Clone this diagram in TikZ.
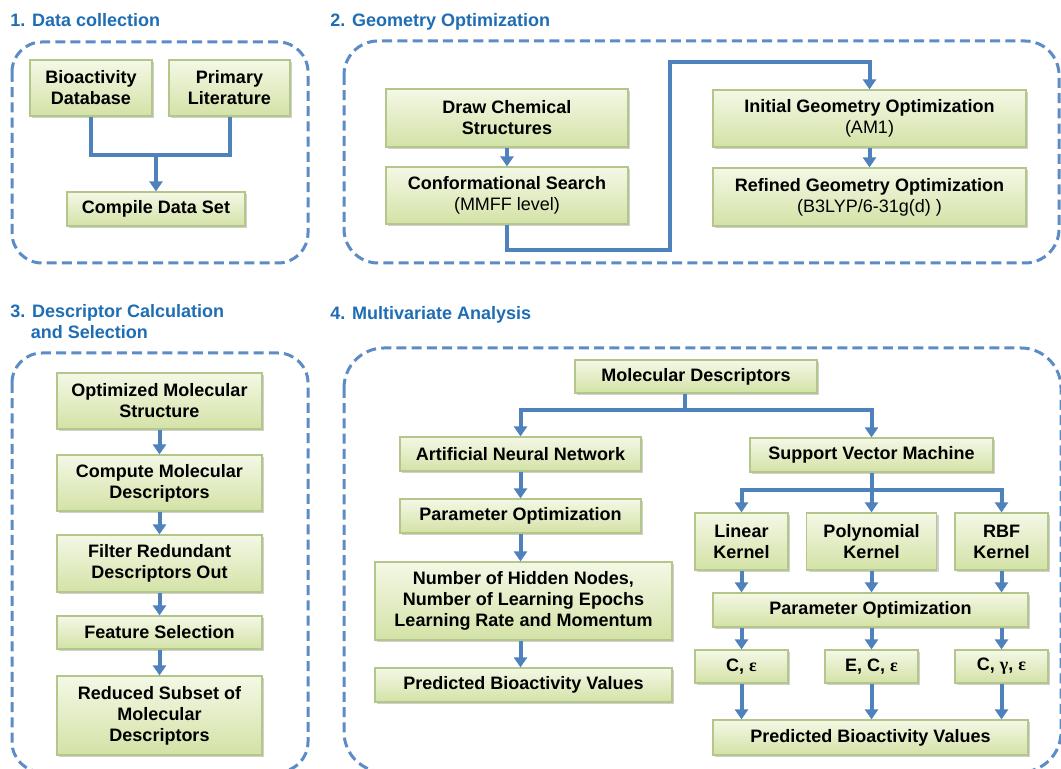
\documentclass[tikz,border=0pt]{standalone}
\usepackage{fontspec}
\setmainfont{Liberation Sans}
\newfontfamily\grk{Liberation Serif}
\usetikzlibrary{arrows.meta,shadows}
\definecolor{flow}{HTML}{4F81BD}
\definecolor{framec}{HTML}{5B8CC6}
\definecolor{head}{HTML}{1F6DB4}
\definecolor{boxtop}{HTML}{F4F8E6}
\definecolor{boxbot}{HTML}{D3E2A6}
\definecolor{boxline}{HTML}{B3C68C}
\begin{document}
\begin{tikzpicture}[x=0.5pt,y=-0.5pt,
  stepbox/.style={draw=boxline, line width=0.6pt, top color=boxtop, bottom color=boxbot,
    inner sep=0pt, align=center, font=\fontsize{9}{10.5}\selectfont\bfseries,
    drop shadow={shadow xshift=1pt, shadow yshift=-1.2pt, opacity=0.3, fill=black!60}},
  sz/.style 2 args={minimum width=#1*0.5pt, minimum height=#2*0.5pt},
  heading/.style={anchor=base west, inner sep=0pt, text=head,
    font=\fontsize{9}{11}\selectfont\bfseries},
  group/.style={draw=framec, line width=1.5pt, dash pattern=on 5pt off 2.6pt},
  conn/.style={draw=flow, line width=2pt},
  arr/.style={conn, -{Triangle[width=6.5pt,length=5pt]}},
]
\useasboundingbox[fill=white] (0,0) rectangle (1061,769);

% ---- group frames ----
\draw[group, rounded corners=15pt] (12,42) rectangle (308,263);
\draw[group, rounded corners=17pt] (344,41) rectangle (1059,263);
\draw[group, rounded corners=15pt] (12,353) rectangle (308,772);
\draw[group, rounded corners=20pt] (344,348) rectangle (1061,772);

% ---- headings ----
\node[heading] (h1) at (10,27) {1. Data collection};
\node[heading] (h2) at (330,27) {2. Geometry Optimization};
\node[heading] (h3a) at (10,318) {3. Descriptor Calculation};
\node[heading] (h3b) at (30.5,339) {and Selection};
\node[heading] (h4) at (330,320) {4. Multivariate Analysis};

% ---- 1. data collection ----
\node[stepbox, sz={122}{56}] (bio) at (91,88) {Bioactivity\\Database};
\node[stepbox, sz={121}{56}] (prim) at (229.5,88) {Primary\\Literature};
\node[stepbox, sz={178}{34}] (comp) at (156,209) {Compile Data Set};
\coordinate (m1) at (156,155);
\draw[conn] (bio.south) |- (m1) -| (prim.south);
\draw[arr] (m1) -- (comp.north);

% ---- 2. geometry optimization ----
\node[stepbox, sz={242}{58}] (draw) at (507,118) {Draw Chemical\\Structures};
\node[stepbox, sz={242}{57}] (conf) at (507,195.5) {Conformational Search\\{\mdseries (MMFF level)}};
\node[stepbox, sz={313}{57}] (init) at (869.5,118.5) {Initial Geometry Optimization\\{\mdseries (AM1)}};
\node[stepbox, sz={313}{58}] (refi) at (869.5,197) {Refined Geometry Optimization\\{\mdseries (B3LYP/6-31g(d) )}};
\coordinate (g1) at (670,250);
\coordinate (g2) at (670,62);
\draw[arr] (draw.south) -- (conf.north);
\draw[arr] (conf.south) |- (g1) -- (g2) -| (init.north);
\draw[arr] (init.south) -- (refi.north);

% ---- 3. descriptor calculation and selection ----
\node[stepbox, sz={205}{56}] (oms) at (159.5,401) {Optimized Molecular\\Structure};
\node[stepbox, sz={205}{56}] (cmd) at (159.5,483) {Compute Molecular\\Descriptors};
\node[stepbox, sz={205}{57}] (frd) at (159.5,563.5) {Filter Redundant\\Descriptors Out};
\node[stepbox, sz={205}{33}] (fsel) at (159.5,632.5) {Feature Selection};
\node[stepbox, sz={205}{79}] (rss) at (159.5,715.5) {Reduced Subset of\\Molecular\\Descriptors};
\draw[arr] (oms) -- (cmd);
\draw[arr] (cmd) -- (frd);
\draw[arr] (frd) -- (fsel);
\draw[arr] (fsel) -- (rss);

% ---- 4. multivariate analysis ----
\node[stepbox, sz={242}{33}] (md) at (696,376.5) {Molecular Descriptors};
\node[stepbox, sz={241}{34}] (ann) at (520.5,454) {Artificial Neural Network};
\node[stepbox, sz={241}{34}] (po1) at (520.5,516) {Parameter Optimization};
\node[stepbox, sz={297}{78}] (hid) at (523.5,601) {Number of Hidden Nodes,\\Number of Learning Epochs\\Learning Rate and Momentum};
\node[stepbox, sz={297}{34}] (pb1) at (523.5,685) {Predicted Bioactivity Values};

\node[stepbox, sz={243}{34}] (svm) at (871.5,455) {Support Vector Machine};
\node[stepbox, sz={93}{57}] (lin) at (741.5,541.5) {Linear\\Kernel};
\node[stepbox, sz={130}{57}] (pol) at (871.5,541.5) {Polynomial\\Kernel};
\node[stepbox, sz={93}{57}] (rbf) at (1001.5,541.5) {RBF\\Kernel};
\node[stepbox, sz={315}{34}] (po2) at (870.5,610) {Parameter Optimization};
\node[stepbox, sz={93}{33}] (ce1) at (741.5,666.5) {C, {\grk\bfseries ε}};
\node[stepbox, sz={93}{33}] (ce2) at (871.5,666.5) {E, C, {\grk\bfseries ε}};
\node[stepbox, sz={93}{33}] (ce3) at (1001.5,666.5) {C, {\grk\bfseries γ}, {\grk\bfseries ε}};
\node[stepbox, sz={315}{35}] (pb2) at (870.5,737.5) {Predicted Bioactivity Values};

\coordinate (b1) at (685,410);
\draw[conn] (md.south -| b1) -- (b1);
\draw[arr] (b1) -| (ann.north);
\draw[arr] (b1) -| (svm.north);
\draw[arr] (ann.south) -- (po1.north);
\draw[arr] (po1.south) -- (po1.south |- hid.north);
\draw[arr] (po1.south |- hid.south) -- (po1.south |- pb1.north);

\coordinate (b2) at (871.5,490);
\draw[conn] (svm.south) -- (b2);
\draw[arr] (b2) -| (lin.north);
\draw[arr] (b2) -- (pol.north);
\draw[arr] (b2) -| (rbf.north);
\draw[arr] (lin.south) -- (lin.south |- po2.north);
\draw[arr] (pol.south) -- (pol.south |- po2.north);
\draw[arr] (rbf.south) -- (rbf.south |- po2.north);
\draw[arr] (po2.south -| ce1) -- (ce1.north);
\draw[arr] (po2.south -| ce2) -- (ce2.north);
\draw[arr] (po2.south -| ce3) -- (ce3.north);
\draw[arr] (ce1.south) -- (ce1.south |- pb2.north);
\draw[arr] (ce2.south) -- (ce2.south |- pb2.north);
\draw[arr] (ce3.south) -- (ce3.south |- pb2.north);
\end{tikzpicture}
\end{document}
